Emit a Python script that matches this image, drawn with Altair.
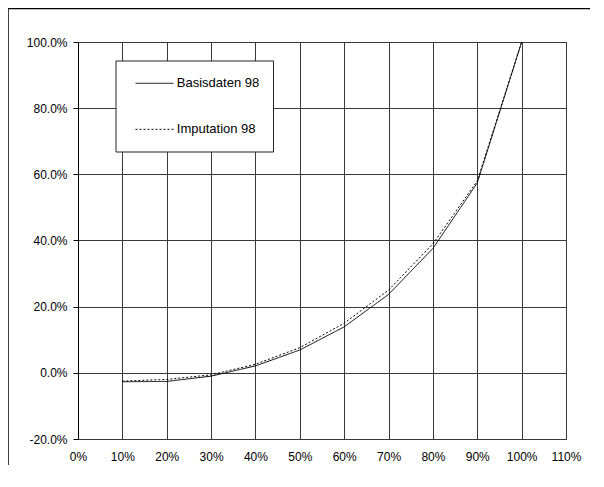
import altair as alt
import pandas as pd

# Data
x_share = [0.10, 0.20, 0.30, 0.40, 0.50, 0.60, 0.70, 0.80, 0.90, 1.00]
basisdaten_98 = [-0.027, -0.026, -0.010, 0.021, 0.069, 0.139, 0.237, 0.376, 0.574, 1.000]
imputation_98 = [-0.025, -0.020, -0.006, 0.026, 0.076, 0.150, 0.250, 0.390, 0.580, 1.000]
series_names = ["Basisdaten 98", "Imputation 98"]
x_ticks = [0.0, 0.1, 0.2, 0.3, 0.4, 0.5, 0.6, 0.7, 0.8, 0.9, 1.0, 1.1]
y_ticks = [-0.2, 0.0, 0.2, 0.4, 0.6, 0.8, 1.0]

rows = []
for name, vals in zip(series_names, [basisdaten_98, imputation_98]):
    for xv, yv in zip(x_share, vals):
        rows.append({"x": xv, "y": yv, "series": name})
df = pd.DataFrame(rows)

FONT = "Liberation Sans"
GRID = "#3a3a3a"
dashes = [[1, 0], [2, 2]]

lines = alt.Chart(df).mark_line(color="black", strokeWidth=1).encode(
    x=alt.X("x:Q",
            scale=alt.Scale(domain=[0, 1.1], nice=False, zero=False),
            axis=alt.Axis(values=x_ticks, format=".0%", title=None, grid=True,
                          ticks=False, labelPadding=12, domain=False,
                          labelOverlap=False, labelFlush=False)),
    y=alt.Y("y:Q",
            scale=alt.Scale(domain=[-0.2, 1.0], nice=False, zero=False),
            axis=alt.Axis(values=y_ticks, title=None, grid=True, tickSize=5,
                          labelPadding=6, labelOverlap=False, labelFlush=False,
                          labelExpr="(datum.value < -0.0001 ? '-' + format(-datum.value * 100, '.1f') : format(datum.value * 100, '.1f')) + '%'")),
    strokeDash=alt.StrokeDash("series:N",
                              scale=alt.Scale(domain=series_names, range=dashes),
                              legend=None),
    detail="series:N",
)

# manual legend box
legend_df = pd.DataFrame({"series": series_names})
box = alt.Chart(legend_df.head(1)).mark_rect(fill="white", stroke="#222222", strokeWidth=1).encode(
    x=alt.value(38), x2=alt.value(195.5), y=alt.value(19), y2=alt.value(110)
)
legend_layers = []
for i, name in enumerate(series_names):
    sub = legend_df[legend_df["series"] == name]
    yy = 41.3 + 46 * i
    legend_layers.append(
        alt.Chart(sub).mark_rule(color="black", strokeWidth=1, strokeDash=dashes[i]).encode(
            x=alt.value(57.5), x2=alt.value(95.5), y=alt.value(yy)
        )
    )
    legend_layers.append(
        alt.Chart(sub).mark_text(align="left", baseline="middle", font=FONT, fontSize=13, color="black").encode(
            x=alt.value(98.8), y=alt.value(yy), text="series:N"
        )
    )

# outer chart frame (top and left edges; the others fall outside the picture)
frame_top = alt.Chart(legend_df.head(1)).mark_rule(color="black", strokeWidth=1.5).encode(
    x=alt.value(-70), x2=alt.value(700), y=alt.value(-33.5)
)
frame_left = alt.Chart(legend_df.head(1)).mark_rule(color="black", strokeWidth=1.5).encode(
    x=alt.value(-70), y=alt.value(-33.5), y2=alt.value(700)
)

chart = alt.layer(frame_top, frame_left, lines, box, *legend_layers).properties(
    width=488, height=397,
    background="white",
    autosize=alt.AutoSizeParams(type="none"),
    padding={"left": 70, "top": 34, "right": 24, "bottom": 26},
).configure_view(stroke=GRID, strokeWidth=1).configure_axis(
    gridColor=GRID, gridWidth=1, gridOpacity=1,
    domainColor="black", tickColor="black",
    labelFont=FONT, labelFontSize=12, labelColor="black",
)

chart.save("out.html", embed_options={"renderer": "svg", "actions": False})
